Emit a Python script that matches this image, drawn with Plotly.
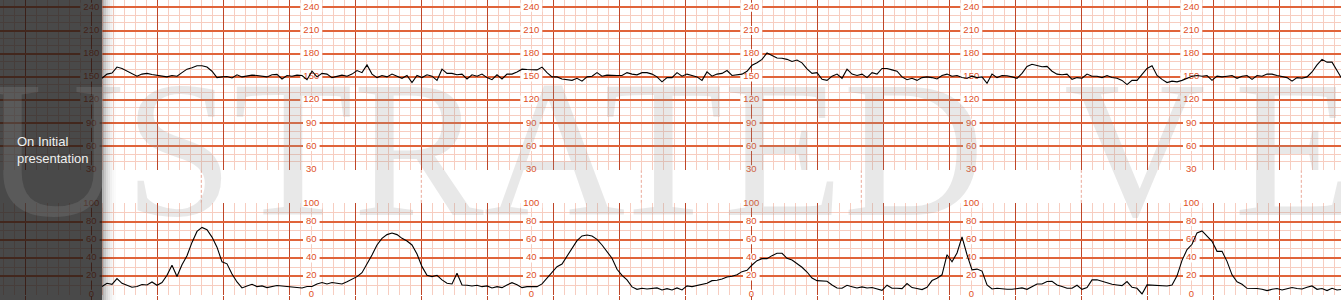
import plotly.graph_objects as go

W, H = 1341, 300

# ---------------- data ----------------
# samples taken every ~4.5 s (0.07576 min), first sample at t0 minutes
t0 = 1.162
dt = 0.07576

fhr_bpm = [
    148.2, 153.6, 155.0, 162.7, 160.9, 157.3, 153.6, 150.9, 153.6, 154.5,
    153.2, 152.3, 151.8, 150.0, 151.8, 150.9, 155.5, 160.0, 161.8, 164.5,
    164.5, 162.7, 157.3, 149.1, 150.0, 150.5, 148.6, 152.7, 150.0, 150.9,
    152.3, 151.8, 150.9, 150.0, 152.7, 153.2, 147.3, 151.8, 150.9, 152.3,
    151.8, 146.4, 157.3, 150.0, 154.5, 153.6, 149.1, 150.9, 152.3, 150.9,
    153.6, 158.2, 155.5, 165.5, 153.6, 149.1, 151.8, 150.0, 153.6, 150.9,
    148.2, 151.8, 142.7, 151.8,
    149.1, 152.7, 150.9, 145.5, 160.0, 154.5, 154.5, 152.7, 153.6, 147.3,
    152.7, 150.9, 153.6, 149.1, 146.4, 152.7, 147.3, 153.6, 153.6, 156.4,
    160.0, 159.5, 159.5, 159.1, 162.7, 155.5, 150.0, 150.0, 147.3, 146.4,
    145.5, 148.2, 144.5, 150.0, 150.9, 155.5, 150.9, 152.3, 151.8, 151.8,
    151.8, 155.5, 153.6, 152.7, 155.5, 155.5, 153.6, 150.0, 143.6, 149.1,
    149.1, 155.5, 150.9, 153.6, 151.8, 150.0, 145.5, 156.4, 150.9, 153.6,
    154.5, 158.2,
    151.8, 152.7, 153.6, 157.3, 165.0, 168.2, 172.7, 181.0, 178.2, 174.5,
    174.1, 172.7, 170.0, 171.8, 168.2, 160.5, 154.5, 155.5, 146.8, 145.5,
    150.9, 153.6, 148.2, 160.0, 153.6, 151.8, 153.6, 149.1, 155.5, 153.6,
    160.9, 160.9, 159.1, 157.3, 150.0, 146.4, 148.2, 145.5, 149.1, 150.0,
    149.1, 147.3, 151.8, 153.6, 150.9, 151.8, 149.1, 148.2, 150.9, 149.1,
    150.0, 141.8, 153.6, 149.1, 151.8, 151.4, 150.0, 148.2, 154.5, 163.6,
    166.4, 164.5,
    163.2, 163.6, 157.3, 153.6, 152.7, 153.6, 146.8, 149.1, 148.2, 153.6,
    150.9, 150.9, 149.1, 151.8, 149.1, 148.2, 145.5, 140.0, 145.5, 145.5,
    152.7, 160.9, 164.5, 151.8, 146.8, 142.7, 144.5, 143.6, 145.5, 148.2,
    150.9, 151.8, 150.9, 151.8, 145.5, 150.9, 150.0, 150.9, 151.8, 148.2,
    150.9, 151.8, 146.8, 151.8, 150.9, 153.6, 153.6, 151.8, 150.0, 149.1,
    144.5, 149.1, 148.2, 150.0, 156.4, 165.5, 172.7, 169.1, 169.1, 157.3,
    147.3,
]

toco = [
    8.5, 12.1, 11.0, 17.3, 12.1, 9.6, 7.7, 8.5, 10.7, 10.3,
    13.6, 9.9, 12.9, 21.0, 32.0, 19.5, 32.4, 42.3, 57.0, 69.1,
    73.5, 71.0, 62.9, 51.8, 35.7, 33.5, 22.4, 13.6, 7.0, 9.2,
    11.0, 8.5, 9.2, 7.4, 8.8, 9.6, 9.2, 8.5, 8.5, 7.7,
    7.0, 8.5, 8.5, 11.4, 12.9, 11.4, 12.9, 12.1,
    11.4, 13.9, 16.5, 19.4, 23.8, 33.3, 43.2, 54.2, 61.5, 65.6,
    67.4, 65.6, 61.5, 58.6, 54.2, 44.3, 30.4, 20.9, 19.4, 20.9,
    15.8, 12.1, 11.4, 23.1, 10.3, 9.9, 9.2, 9.9, 8.4, 9.2,
    7.0, 8.4, 7.3, 10.3, 12.8, 10.6, 7.3, 8.4, 8.4, 8.4,
    11.4, 17.6, 23.8, 30.4, 33.3, 41.4, 50.2, 59.0, 64.1, 65.2,
    64.1, 60.4, 54.2, 46.9, 39.6, 27.5, 20.9, 15.8, 8.1, 5.5,
    6.6, 5.9, 6.2, 7.0, 4.8, 6.2, 4.8, 7.0, 4.8, 9.2,
    8.4, 9.9, 11.0, 12.1, 15.0, 15.4, 16.8, 19.0, 19.8, 21.6,
    24.9, 26.4, 32.2, 37.0, 39.2, 39.2, 42.5, 45.1, 45.1, 39.6,
    37.7, 34.1, 29.7, 24.5, 17.9, 15.0, 15.0, 14.3, 10.3, 7.0,
    6.6, 9.9, 8.4, 7.0,
    8.1, 7.0, 7.4, 6.3, 4.4, 10.0, 6.6, 6.6, 6.3, 11.8,
    7.4, 6.3, 5.2, 7.7, 15.1, 17.7, 21.4, 43.5, 35.8, 45.4,
    63.1, 43.5, 26.9, 27.7, 25.5, 10.3, 5.9, 6.6, 5.9, 5.5,
    5.5, 6.6, 7.0, 5.5, 8.9, 11.4, 11.4, 14.0, 14.4, 10.3,
    8.5, 6.6, 6.6, 10.0, 5.5, 7.4, 15.9, 15.9, 14.4, 12.5,
    11.1, 10.3, 9.6, 14.0, 7.7, 6.6, 0.4, 10.3, 10.0, 10.3,
    10.0, 9.2, 10.3, 20.3, 37.3, 49.1, 55.0, 67.5, 69.7, 63.8,
    58.3, 47.2, 47.2, 36.2, 21.4, 13.7, 11.1, 6.6, 6.6, 6.3,
    5.5, 4.1, 5.5, 6.3, 4.8, 6.3, 7.4, 6.3, 5.9, 7.7,
    9.2, 5.5, 6.3, 4.1, 6.6, 4.8, 5.5,
]

fhr_ticks = [30, 60, 90, 120, 150, 180, 210, 240]
toco_ticks = [0, 20, 40, 60, 80, 100]
label_cols = [1.0, 13 / 3, 23 / 3, 11.0, 43 / 3, 53 / 3]      # minutes
dash_cols = [c + 5 / 3 for c in label_cols]

panel_text = "On Initial<br>presentation"
watermark_words = ["ILLUSTRATED", "V", "ERSION"]

# ---------------- styling ----------------
HMAJ = "#e0643a"
VMAJ = "#bf4628"
MINOR = "#f7cdc0"
LABEL = "#e0501f"
PX_PER_MIN = 66.0
X_RANGE = [-25.3 / PX_PER_MIN, (W - 25.3) / PX_PER_MIN]

times = [t0 + i * dt for i in range(len(fhr_bpm))]

fig = go.Figure()

# label texts (drawn under the traces)
for ticks, xa, ya in ((fhr_ticks, "x", "y"), (toco_ticks, "x2", "y2")):
    lx, ly, lt = [], [], []
    for c in label_cols:
        for v in ticks:
            lx.append(c)
            ly.append(v)
            lt.append(str(v))
    fig.add_trace(go.Scatter(
        x=lx, y=ly, text=lt, mode="text", textposition="middle center",
        textfont=dict(family="Liberation Sans, Arial, sans-serif", size=9.5, color=LABEL),
        cliponaxis=False, hoverinfo="skip", showlegend=False, xaxis=xa, yaxis=ya))

fig.add_trace(go.Scatter(x=times, y=fhr_bpm, mode="lines",
                         line=dict(color="black", width=1.1), hoverinfo="skip",
                         showlegend=False, xaxis="x", yaxis="y"))
fig.add_trace(go.Scatter(x=times, y=toco, mode="lines",
                         line=dict(color="black", width=1.1), hoverinfo="skip",
                         showlegend=False, xaxis="x2", yaxis="y2"))

shapes = []
# white boxes behind labels
fhr_px_per_unit = 0.7735
toco_px_per_unit = 0.91
for ticks, xr, yr, ppu in ((fhr_ticks, "x", "y", fhr_px_per_unit),
                           (toco_ticks, "x2", "y2", toco_px_per_unit)):
    for c in label_cols:
        for v in ticks:
            half_w = (3.0 + 5.3 * len(str(v)) / 2) / PX_PER_MIN
            half_h = 4.5 / ppu
            shapes.append(dict(type="rect", xref=xr, yref=yr, layer="between",
                               x0=c - half_w, x1=c + half_w, y0=v - half_h, y1=v + half_h,
                               fillcolor="white", line=dict(width=0)))

# dashed separators in the gap between the panels
top_dom = [0.4327, 1.0]
bot_dom = [0.01747, 0.32383]
for c in dash_cols:
    shapes.append(dict(type="line", xref="x", yref="paper", x0=c, x1=c,
                       y0=bot_dom[1], y1=top_dom[0], layer="below",
                       line=dict(color="#eaa898", width=1, dash="3px,2px")))

# dark side panel + shadow
edge = 102 / W
shapes.append(dict(type="rect", xref="paper", yref="paper", x0=0, x1=edge, y0=0, y1=1,
                   fillcolor="rgba(22,22,22,0.78)", line=dict(width=0), layer="above"))
for k, a in enumerate([0.30, 0.22, 0.15, 0.10, 0.06, 0.03, 0.015]):
    shapes.append(dict(type="rect", xref="paper", yref="paper",
                       x0=(102 + 2 * k) / W, x1=(104 + 2 * k) / W, y0=0, y1=1,
                       fillcolor=f"rgba(0,0,0,{a})", line=dict(width=0), layer="above"))

wm_font = dict(family="Liberation Serif, Times New Roman, serif", size=196,
               color="rgba(149,149,149,0.22)")
wm_left_px = [-324, 1062, 1232]
annotations = []
for word, lp in zip(watermark_words, wm_left_px):
    annotations.append(dict(text=word, showarrow=False, xref="paper", yref="paper",
                            x=lp / W, xanchor="left", y=(H - 148) / H, yanchor="middle",
                            font=wm_font))
annotations.append(
    dict(text=panel_text, showarrow=False, xref="paper", yref="paper",
         x=15 / W, xanchor="left", align="left", y=(H - 150) / H, yanchor="middle",
         font=dict(family="Liberation Sans, Arial, sans-serif", size=13, color="#f0f0f0")))

xcommon = dict(range=X_RANGE, dtick=1, tick0=0, showgrid=True, gridcolor=VMAJ, gridwidth=1,
               minor=dict(dtick=1 / 6, tick0=0, showgrid=True, gridcolor=MINOR, gridwidth=1),
               zeroline=False, showticklabels=False, showline=False, fixedrange=True)

fig.update_layout(
    width=W, height=H, margin=dict(l=0, r=0, t=0, b=0, pad=0),
    paper_bgcolor="white", plot_bgcolor="white", showlegend=False,
    xaxis=dict(**xcommon, anchor="y", ticks=""),
    xaxis2=dict(**xcommon, anchor="y2", ticks="outside", ticklen=6,
                tickcolor=VMAJ, tickwidth=1),
    yaxis=dict(domain=top_dom, range=[29.35, 249.44], dtick=30, tick0=0,
               showgrid=True, gridcolor=HMAJ, gridwidth=2,
               minor=dict(dtick=10, tick0=0, showgrid=True, gridcolor=MINOR, gridwidth=1),
               zeroline=False, showticklabels=False, fixedrange=True),
    yaxis2=dict(domain=bot_dom, range=[-0.5, 100.5], dtick=20, tick0=0,
                showgrid=True, gridcolor=HMAJ, gridwidth=2,
                minor=dict(dtick=10, tick0=0, showgrid=True, gridcolor=MINOR, gridwidth=1),
                zeroline=False, showticklabels=False, fixedrange=True),
    shapes=shapes, annotations=annotations,
)

fig.write_html("out.html", config={"displayModeBar": False})
